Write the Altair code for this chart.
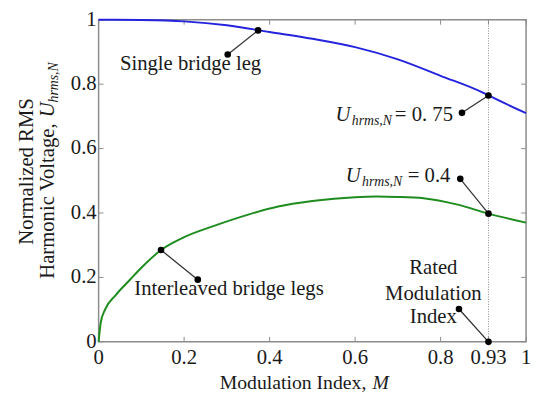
import altair as alt
import pandas as pd

# ---------------- data ----------------
SERIES = ["Single bridge leg", "Interleaved bridge legs"]
COLORS = ["#2424de", "#1e8c1e"]

M_SINGLE = [0.0, 0.1, 0.2, 0.3, 0.4, 0.5, 0.6, 0.7, 0.8, 0.9, 0.912, 1.0]
U_SINGLE = [1.0, 0.999, 0.995, 0.983, 0.962, 0.941, 0.915, 0.877, 0.826, 0.773, 0.765, 0.71]

M_INTER = [0.0, 0.005, 0.015, 0.04, 0.075, 0.1, 0.146, 0.2, 0.27, 0.35, 0.42, 0.5,
           0.6, 0.65, 0.7, 0.76, 0.84, 0.912, 1.0]
U_INTER = [0.0, 0.06, 0.1, 0.145, 0.195, 0.23, 0.285, 0.325, 0.36, 0.395, 0.42, 0.437,
           0.449, 0.451, 0.45, 0.446, 0.426, 0.398, 0.37]

RATED_M = 0.912          # where the rated-index line is drawn in the picture
XTICK_VALUES = [0, 0.2, 0.4, 0.6, 0.8, RATED_M, 1]
XTICK_LABELS = ["0", "0.2", "0.4", "0.6", "0.8", "0.93", "1"]
YTICK_VALUES = [0, 0.2, 0.4, 0.6, 0.8, 1]
YTICK_LABELS = ["0", "0.2", "0.4", "0.6", "0.8", "1"]

# plain annotation texts
ANN_TEXT = ["Single bridge leg", "Interleaved bridge legs", "Rated", "Modulation", "Index"]
ANN_M = [0.215, 0.305, 0.783, 0.783, 0.783]
ANN_U = [0.843, 0.145, 0.211, 0.130, 0.060]

# leader lines (label end -> curve end)
LEAD_M0 = [0.302, 0.850, 0.846, 0.232, 0.843]
LEAD_U0 = [0.892, 0.711, 0.506, 0.193, 0.102]
LEAD_M1 = [0.373, RATED_M, RATED_M, 0.146, RATED_M]
LEAD_U1 = [0.967, 0.765, 0.398, 0.285, 0.0]

# U_hrms,N labels: anchor (right end), value text, offsets of subscript and U
ULAB_M = [0.829, 0.823]
ULAB_U = [0.687, 0.497]
ULAB_VALUE = ["= 0. 75", "= 0.4"]
ULAB_DX_SUB = [-62, -49]
ULAB_DX_U = [-104, -91]

# ---------------- styling ----------------
W, H = 434, 327
FONT = "Liberation Serif"
TXT = "#1a1a1a"
FRAME = "#8c8c8c"

xs = alt.Scale(domain=[0, 1], nice=False, zero=False)
ys = alt.Scale(domain=[0, 1], nice=False, zero=False)


def X(f):
    return alt.X(f, scale=xs, axis=None)


def Y(f):
    return alt.Y(f, scale=ys, axis=None)


one = pd.DataFrame({"a": [0]})

# curves
curve_df = pd.DataFrame({
    "M": M_SINGLE + M_INTER,
    "U": U_SINGLE + U_INTER,
    "series": [SERIES[0]] * len(M_SINGLE) + [SERIES[1]] * len(M_INTER),
})
curves = alt.Chart(curve_df).mark_line(strokeWidth=2, interpolate="monotone").encode(
    x=X("M:Q"),
    y=Y("U:Q"),
    color=alt.Color("series:N", scale=alt.Scale(domain=SERIES, range=COLORS), legend=None),
)

# inside ticks on all four sides + tick labels
xt = pd.DataFrame({"v": XTICK_VALUES, "label": XTICK_LABELS})
yt = pd.DataFrame({"v": YTICK_VALUES, "label": YTICK_LABELS})
tick_style = dict(color=FRAME, strokeWidth=1)
bottom_ticks = alt.Chart(xt).mark_rule(**tick_style).encode(x=X("v:Q"), y=alt.value(H), y2=alt.value(H - 5))
top_ticks = alt.Chart(xt).mark_rule(**tick_style).encode(x=X("v:Q"), y=alt.value(0), y2=alt.value(5))
left_ticks = alt.Chart(yt).mark_rule(**tick_style).encode(y=Y("v:Q"), x=alt.value(0), x2=alt.value(5))
right_ticks = alt.Chart(yt).mark_rule(**tick_style).encode(y=Y("v:Q"), x=alt.value(W), x2=alt.value(W - 5))
xlabels = alt.Chart(xt).mark_text(font=FONT, fontSize=21, color=TXT, align="center",
                                  baseline="alphabetic").encode(
    x=X("v:Q"), y=alt.value(H + 23), text="label:N")
ylabels = alt.Chart(yt).mark_text(font=FONT, fontSize=21, color=TXT, align="right",
                                  baseline="middle").encode(
    y=Y("v:Q"), x=alt.value(-2), text="label:N")

# rated modulation index line
rated = alt.Chart(pd.DataFrame({"M": [RATED_M], "y0": [0], "y1": [1]})).mark_rule(
    color="#8a8a8a", strokeDash=[1, 1.5], strokeWidth=1
).encode(x=X("M:Q"), y=Y("y0:Q"), y2="y1:Q")

# leaders + dots
lead_df = pd.DataFrame({"m0": LEAD_M0, "u0": LEAD_U0, "m1": LEAD_M1, "u1": LEAD_U1})
leaders = alt.Chart(lead_df).mark_rule(color="#333333", strokeWidth=1.3).encode(
    x=X("m0:Q"), y=Y("u0:Q"), x2="m1:Q", y2="u1:Q"
)
dots_df = pd.DataFrame({"M": LEAD_M0 + LEAD_M1, "U": LEAD_U0 + LEAD_U1})
dots = alt.Chart(dots_df).mark_circle(size=45, color="#000000", opacity=1).encode(
    x=X("M:Q"), y=Y("U:Q")
)

# plain annotations
ann_df = pd.DataFrame({"M": ANN_M, "U": ANN_U, "text": ANN_TEXT})
ann = alt.Chart(ann_df).mark_text(font=FONT, fontSize=21, color=TXT, align="center",
                                  baseline="alphabetic").encode(
    x=X("M:Q"), y=Y("U:Q"), text="text:N"
)

# U_hrms,N labels
ulayers = []
for m, u, val, dxs, dxu in zip(ULAB_M, ULAB_U, ULAB_VALUE, ULAB_DX_SUB, ULAB_DX_U):
    d = pd.DataFrame({"M": [m], "U": [u]})
    ulayers.append(alt.Chart(d).mark_text(font=FONT, fontSize=21, color=TXT, align="right",
                                          baseline="alphabetic").encode(
        x=X("M:Q"), y=Y("U:Q"), text=alt.value(val)))
    ulayers.append(alt.Chart(d).mark_text(font=FONT, fontSize=14, fontStyle="italic", color=TXT,
                                          align="right", baseline="alphabetic", dx=dxs, dy=4).encode(
        x=X("M:Q"), y=Y("U:Q"), text=alt.value("hrms,N")))
    ulayers.append(alt.Chart(d).mark_text(font=FONT, fontSize=21, fontStyle="italic", color=TXT,
                                          align="right", baseline="alphabetic", dx=dxu).encode(
        x=X("M:Q"), y=Y("U:Q"), text=alt.value("U")))

# axis titles (mixed regular / italic text)
xt1 = alt.Chart(one).mark_text(font=FONT, fontSize=20, color=TXT, align="left", baseline="alphabetic").encode(
    x=alt.value(123), y=alt.value(375), text=alt.value("Modulation Index,"))
xt2 = alt.Chart(one).mark_text(font=FONT, fontSize=20, fontStyle="italic", color=TXT, align="left",
                               baseline="alphabetic").encode(
    x=alt.value(278), y=alt.value(375), text=alt.value("M"))
yt1 = alt.Chart(one).mark_text(font=FONT, fontSize=21, color=TXT, angle=270, align="center",
                               baseline="alphabetic").encode(
    x=alt.value(-67), y=alt.value(154), text=alt.value("Normalized RMS"))
yt2 = alt.Chart(one).mark_text(font=FONT, fontSize=21, color=TXT, angle=270, align="left",
                               baseline="alphabetic").encode(
    x=alt.value(-45), y=alt.value(263), text=alt.value("Harmonic Voltage,"))
yt3 = alt.Chart(one).mark_text(font=FONT, fontSize=21, fontStyle="italic", color=TXT, angle=270,
                               align="left", baseline="alphabetic").encode(
    x=alt.value(-45), y=alt.value(99), text=alt.value("U"))
yt4 = alt.Chart(one).mark_text(font=FONT, fontSize=14, fontStyle="italic", color=TXT, angle=270,
                               align="left", baseline="alphabetic").encode(
    x=alt.value(-41), y=alt.value(84), text=alt.value("hrms,N"))

chart = alt.layer(
    bottom_ticks, top_ticks, left_ticks, right_ticks, rated, curves,
    xlabels, ylabels, leaders, dots, ann, *ulayers, xt1, xt2, yt1, yt2, yt3, yt4
).properties(
    width=W, height=H,
    padding={"left": 92, "top": 9, "right": 6, "bottom": 48},
    autosize=alt.AutoSizeParams(type="none"),
).configure_view(stroke=FRAME, strokeWidth=1.5)

chart.save("out.html", embed_options={"renderer": "svg", "actions": False})
